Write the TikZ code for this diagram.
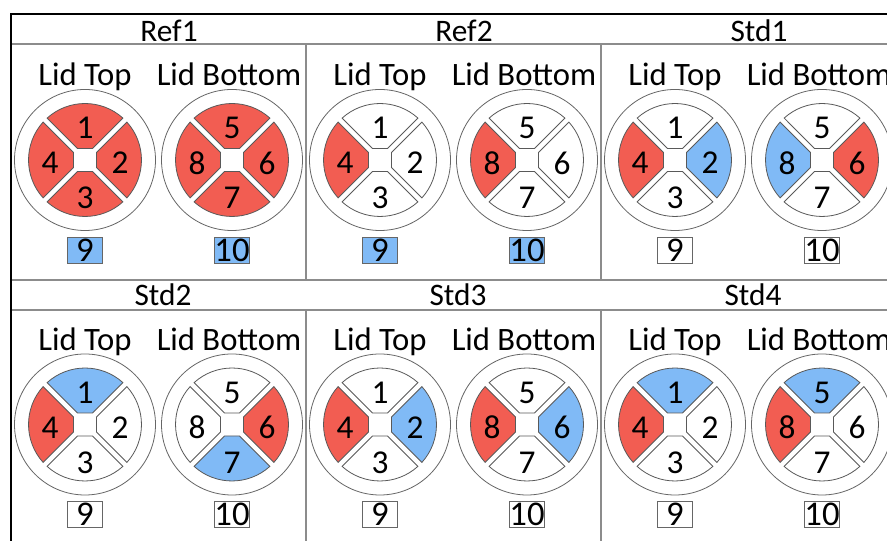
\documentclass[tikz,border=0pt]{standalone}
\usepackage{fontspec}
\setmainfont{Carlito}
\usetikzlibrary{calc}
\definecolor{lidred}{RGB}{242,93,82}
\definecolor{lidblue}{RGB}{128,186,246}
\tikzset{
  frame/.style = {draw=black, line width=1.5pt},
  grid/.style  = {draw=black!45, line width=0.8pt},
  rim/.style   = {draw=black!60, line width=0.6pt, fill=white},
  seg/.style   = {draw=black!65, line width=0.6pt},
  ttl/.style   = {anchor=base, inner sep=0pt, font=\fontsize{23.5}{24}\selectfont},
  lbl/.style   = {anchor=base, inner sep=0pt, font=\fontsize{24.5}{25}\selectfont},
  num/.style   = {inner sep=0pt, font=\fontsize{25}{25}\selectfont},
  tag/.style   = {draw=black!60, line width=0.6pt, minimum width=26pt,
                  minimum height=19.5pt, inner sep=0pt,
                  font=\fontsize{26}{26}\selectfont},
}
% #1 centre, #2 name, #3 list rotation/number/colour
\newcommand{\lid}[3]{%
  \draw[rim] (#1) circle[radius=70.5];
  \foreach \r/\n/\c in {#3} {
    \begin{scope}[shift={(#1)}, rotate=\r]
      \draw[seg, fill=\c] (7.5,11.5) -- (37.9,41.9)
        arc[start angle=47.9, end angle=132.1, radius=56.5] -- (-7.5,11.5) -- cycle;
    \end{scope}
    \node[num] (#2-\n) at ($(#1)+(90+\r:35)+(0,-3)$) {\n};
  }
}
% #1,#2 shift, #3 name, #4 title, #5 title x, #6 box fill, #7 top, #8 bottom
\newcommand{\panel}[8]{%
  \begin{scope}[shift={(#1,#2)}]
    \node[ttl] (#3-title) at (#5,499.5) {#4};
    \node[lbl] (#3-top) at (85,455) {Lid Top};
    \node[lbl] (#3-bot) at (229,455) {Lid Bottom};
    \lid{85,381}{#3-t}{#7}
    \lid{232,381}{#3-b}{#8}
    \node[tag, fill=#6] (#3-9) at (85,291) {9};
    \node[tag, fill=#6] (#3-10) at (232,291) {10};
  \end{scope}}

\begin{document}
\begin{tikzpicture}[x=0.75pt, y=0.75pt]
  \useasboundingbox (0,0) rectangle (887,541);
  \clip (0,0) rectangle (887,541);
  \fill[white] (0,0) rectangle (887,541);

  % grid
  \draw[grid] (11,497) -- (900,497);
  \draw[grid] (11,261) -- (900,261);
  \draw[grid] (11,231) -- (900,231);
  \foreach \x in {306,601} {
    \draw[grid] (\x,497) -- (\x,261);
    \draw[grid] (\x,231) -- (\x,-5);
  }
  \draw[frame] (900,527) -- (11,527) -- (11,-5);

  % row 1
  \panel{0}{0}{ref1}{Ref1}{169}{lidblue}
    {0/1/lidred,-90/2/lidred,-180/3/lidred,-270/4/lidred}
    {0/5/lidred,-90/6/lidred,-180/7/lidred,-270/8/lidred}
  \panel{295}{0}{ref2}{Ref2}{169}{lidblue}
    {0/1/white,-90/2/white,-180/3/white,-270/4/lidred}
    {0/5/white,-90/6/white,-180/7/white,-270/8/lidred}
  \panel{590}{0}{std1}{Std1}{169}{white}
    {0/1/white,-90/2/lidblue,-180/3/white,-270/4/lidred}
    {0/5/white,-90/6/lidred,-180/7/white,-270/8/lidblue}
  % row 2
  \panel{0}{-264.5}{std2}{Std2}{163}{white}
    {0/1/lidblue,-90/2/white,-180/3/white,-270/4/lidred}
    {0/5/white,-90/6/lidred,-180/7/lidblue,-270/8/white}
  \panel{295}{-264.5}{std3}{Std3}{163}{white}
    {0/1/white,-90/2/lidblue,-180/3/white,-270/4/lidred}
    {0/5/white,-90/6/lidblue,-180/7/white,-270/8/lidred}
  \panel{590}{-264.5}{std4}{Std4}{163}{white}
    {0/1/lidblue,-90/2/white,-180/3/white,-270/4/lidred}
    {0/5/lidblue,-90/6/white,-180/7/white,-270/8/lidred}
\end{tikzpicture}
\end{document}
